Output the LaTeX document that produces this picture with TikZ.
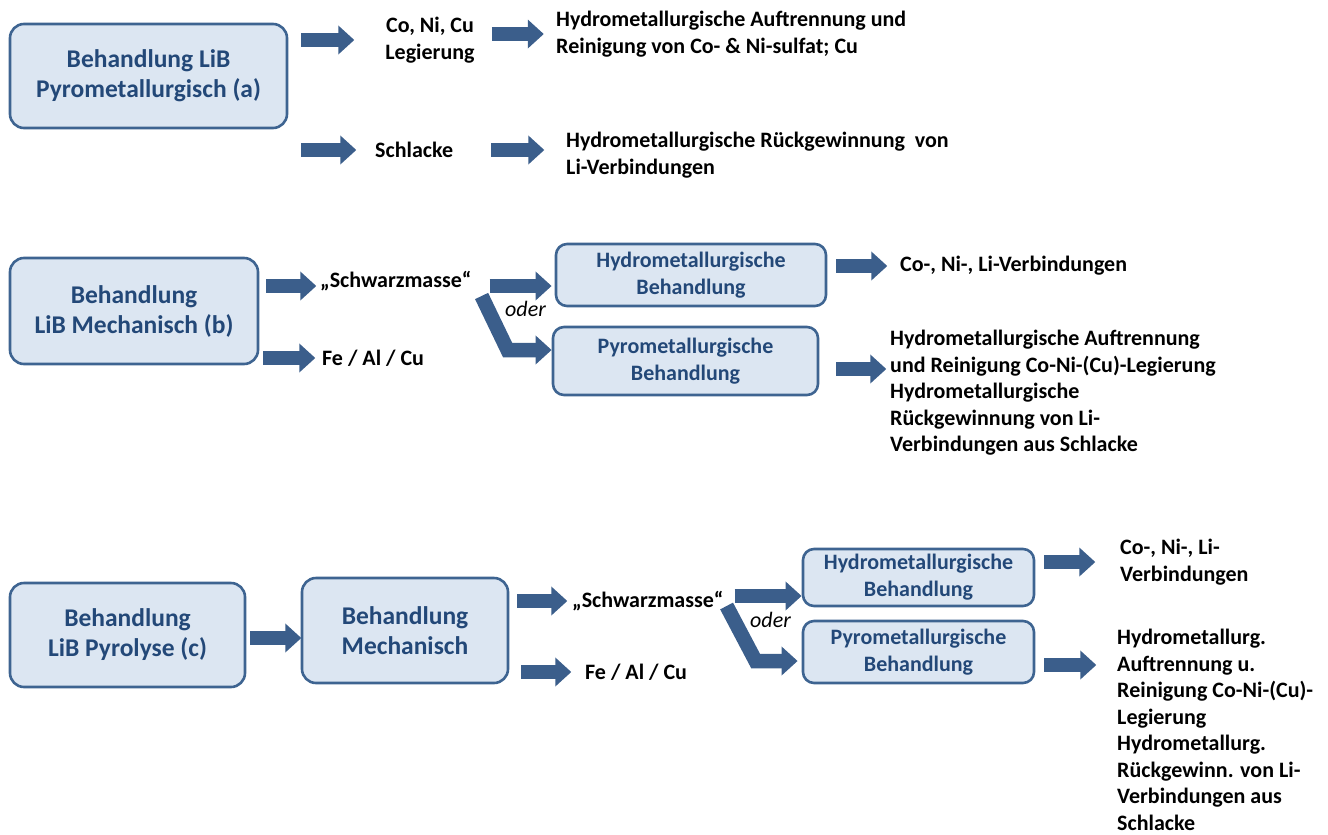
\documentclass[tikz,border=0pt]{standalone}
\usepackage{fontspec}
\setmainfont{Carlito}
\usetikzlibrary{arrows.meta}
\definecolor{arrowblue}{RGB}{59,94,139}
\definecolor{boxline}{RGB}{62,100,145}
\definecolor{boxfill}{RGB}{220,230,242}
\definecolor{boxtext}{RGB}{35,72,120}
\begin{document}
\begin{tikzpicture}[x=1pt,y=-1pt,
    stage/.style={draw=boxline,line width=2.6pt,fill=boxfill,rounded corners=14pt,
        text=boxtext,align=center,inner sep=0pt,
        font=\bfseries\fontsize{25.5}{30}\selectfont},
    substage/.style={stage,rounded corners=11pt,font=\bfseries\fontsize{22}{27}\selectfont},
    txt/.style={inner sep=0pt,align=left,font=\bfseries\fontsize{22}{26.5}\selectfont},
    fatarrow/.style={draw=arrowblue,line width=14.5pt,line join=miter,
        -{Triangle[length=16pt,width=28pt]}}]
    \useasboundingbox (0,0) rectangle (1328,835);

    % (a) pyrometallurgical route
    \node[stage,minimum width=277pt,minimum height=104pt] (pyroA) at (148.5,76)
        {Behandlung LiB\\Pyrometallurgisch (a)};
    \node[txt,align=center] (colegA) at (430,40) {Co, Ni, Cu\\Legierung};
    \node[txt,anchor=north west] (hydroA) at (556,11)
        {Hydrometallurgische Auftrennung und\\Reinigung von Co- \& Ni-sulfat; Cu};
    \node[txt,anchor=west] (schlA) at (375,150) {Schlacke};
    \node[txt,anchor=north west] (liA) at (566,132)
        {Hydrometallurgische Rückgewinnung~ von\\Li-Verbindungen};
    \draw[fatarrow] ([xshift=13pt]pyroA.east |- colegA) -- ++(53,0);
    \draw[fatarrow] ([xshift=17pt]colegA.east |- hydroA.west) -- ++(52,0);
    \draw[fatarrow] ([xshift=13pt]pyroA.east |- schlA) -- ++(55,0);
    \draw[fatarrow] ([xshift=38pt]schlA.east) -- ++(53,0);

    % (b) mechanical route
    \node[stage,minimum width=248pt,minimum height=106pt] (mechB) at (134,311)
        {Behandlung\\LiB Mechanisch (b)};
    \node[txt,anchor=west] (schwB) at (320,281) {„Schwarzmasse“};
    \node[txt,anchor=west] (feB) at (322,358) {Fe / Al / Cu};
    \node[substage,minimum width=270pt,minimum height=62pt] (hydroB) at (691,275)
        {Hydrometallurgische\\Behandlung};
    \node[substage,minimum width=265pt,minimum height=68pt] (pyroB) at (685.5,361)
        {Pyrometallurgische\\Behandlung};
    \node[txt,anchor=west,font=\itshape\fontsize{22}{26.5}\selectfont] (oderB) at (505,309) {oder};
    \node[txt,anchor=west] (verbB) at (900,266) {Co-, Ni-, Li-Verbindungen};
    \node[txt,anchor=north west] (restB) at (890,330)
        {Hydrometallurgische Auftrennung\\und Reinigung Co-Ni-(Cu)-Legierung\\
         Hydrometallurgische\\Rückgewinnung von Li-\\Verbindungen aus Schlacke};
    \draw[fatarrow] ([xshift=7pt]mechB.east |- schwB) ++(0,5) -- ++(50,0);
    \draw[fatarrow] ([xshift=4pt]mechB.east |- feB) -- ++(52,0);
    \draw[fatarrow] ([xshift=18pt,yshift=-5pt]schwB.east) -- ++(62,0);
    \draw[fatarrow] ([xshift=10pt,yshift=-15pt]schwB.east) -- ++(26,54) -- ++(44,0);
    \draw[fatarrow] ([xshift=9pt]hydroB.east |- verbB) -- ++(51,0);
    \draw[fatarrow] ([xshift=17pt,yshift=-8pt]pyroB.east) -- ++(50,0);

    % (c) pyrolysis followed by mechanical treatment
    \node[stage,minimum width=235pt,minimum height=104pt] (pyrolC) at (127.5,635)
        {Behandlung\\LiB Pyrolyse (c)};
    \node[stage,minimum width=206pt,minimum height=105pt] (mechC) at (405,630.5)
        {Behandlung\\Mechanisch};
    \node[txt,anchor=west] (schwC) at (572,601) {„Schwarzmasse“};
    \node[txt,anchor=west] (feC) at (585,672) {Fe / Al / Cu};
    \node[substage,minimum width=231pt,minimum height=57pt] (hydroC) at (918.5,577.5)
        {Hydrometallurgische\\Behandlung};
    \node[substage,minimum width=231pt,minimum height=62pt] (pyroC) at (918.5,652)
        {Pyrometallurgische\\Behandlung};
    \node[txt,anchor=west,font=\itshape\fontsize{22}{26.5}\selectfont] (oderC) at (750,620) {oder};
    \node[txt,anchor=north west] (verbC) at (1120,539) {Co-, Ni-, Li-\\Verbindungen};
    \node[txt,anchor=north west] (restC) at (1117,629)
        {Hydrometallurg.\\Auftrennung u.\\Reinigung Co-Ni-(Cu)-\\Legierung\\
         Hydrometallurg.\\Rückgewinn. von Li-\\Verbindungen aus\\Schlacke};
    \draw[fatarrow] ([xshift=4pt]pyrolC.east) ++(0,3) -- ++(51,0);
    \draw[fatarrow] ([xshift=8pt]mechC.east |- schwC) -- ++(50,0);
    \draw[fatarrow] ([xshift=12pt]mechC.east |- feC) -- ++(50,0);
    \draw[fatarrow] ([xshift=11pt,yshift=5pt]schwC.east) -- ++(67,0);
    \draw[fatarrow] ([xshift=3pt,yshift=-5pt]schwC.east) -- ++(29,55) -- ++(42,0);
    \draw[fatarrow] ([xshift=9pt]hydroC.east |- verbC) -- ++(51,0);
    \draw[fatarrow] ([xshift=9pt,yshift=-13pt]pyroC.east) -- ++(52,0);
\end{tikzpicture}
\end{document}
